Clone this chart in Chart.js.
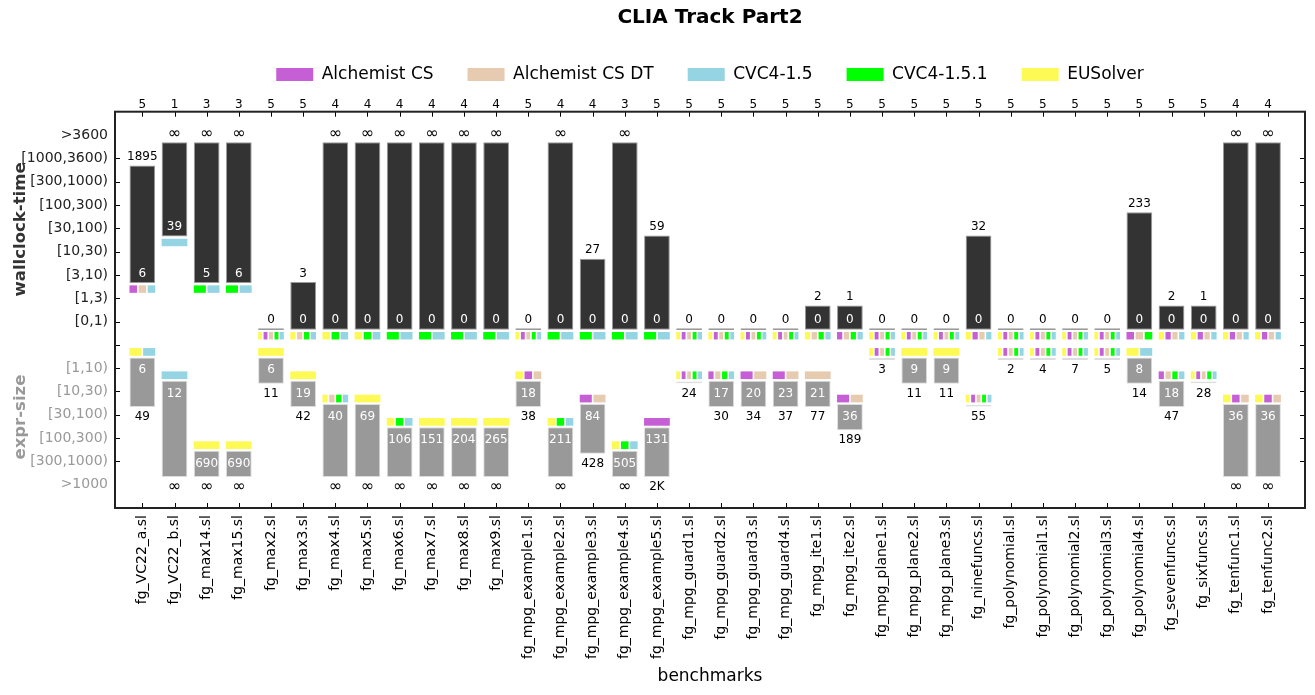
<!DOCTYPE html>
<html>
<head>
<meta charset="utf-8">
<script src="https://cdn.jsdelivr.net/npm/chart.js@4.4.1/dist/chart.umd.min.js"></script>
<style>
html, body { margin: 0; padding: 0; background: #fff; }
</style>
</head>
<body>
<canvas id="c" width="1315" height="695"></canvas>
<script>
var benchmarks = ['fg_VC22_a.sl', 'fg_VC22_b.sl', 'fg_max14.sl', 'fg_max15.sl', 'fg_max2.sl', 'fg_max3.sl',
	'fg_max4.sl', 'fg_max5.sl', 'fg_max6.sl', 'fg_max7.sl', 'fg_max8.sl', 'fg_max9.sl',
	'fg_mpg_example1.sl', 'fg_mpg_example2.sl', 'fg_mpg_example3.sl', 'fg_mpg_example4.sl', 'fg_mpg_example5.sl',
	'fg_mpg_guard1.sl', 'fg_mpg_guard2.sl', 'fg_mpg_guard3.sl', 'fg_mpg_guard4.sl',
	'fg_mpg_ite1.sl', 'fg_mpg_ite2.sl', 'fg_mpg_plane1.sl', 'fg_mpg_plane2.sl', 'fg_mpg_plane3.sl',
	'fg_ninefuncs.sl', 'fg_polynomial.sl', 'fg_polynomial1.sl', 'fg_polynomial2.sl', 'fg_polynomial3.sl',
	'fg_polynomial4.sl', 'fg_sevenfuncs.sl', 'fg_sixfuncs.sl', 'fg_tenfunc1.sl', 'fg_tenfunc2.sl'];

// number of solvers per benchmark (top axis)
var counts = [5, 1, 3, 3, 5, 5, 4, 4, 4, 4, 4, 4, 5, 4, 4, 3, 5, 5, 5, 5, 5, 5, 5, 5, 5, 5, 5, 5, 5, 5, 5, 5, 5, 5, 4, 4];

var INF = Infinity;
// wallclock-time: best and worst
var timeMin = [6, 39, 5, 6, 0, 0, 0, 0, 0, 0, 0, 0, 0, 0, 0, 0, 0, 0, 0, 0, 0, 0, 0, 0, 0, 0, 0, 0, 0, 0, 0, 0, 0, 0, 0, 0];
var timeMax = [1895, INF, INF, INF, 0, 3, INF, INF, INF, INF, INF, INF, 0, INF, 27, INF, 59, 0, 0, 0, 0, 2, 1, 0, 0, 0, 32, 0, 0, 0, 0, 233, 2, 1, INF, INF];
// solvers reaching the best time (Y=EUSolver P=Alchemist CS T=Alchemist CS DT G=CVC4-1.5.1 B=CVC4-1.5)
var timeBest = ['PTB', 'B', 'GB', 'GB', 'YPTGB', 'YTGB', 'YGB', 'YGB', 'GB', 'GB', 'GB', 'GB',
	'YPTGB', 'GB', 'GB', 'GB', 'GB', 'YPTGB', 'YPTGB', 'YPTGB', 'YPTGB', 'YTGB', 'PTGB',
	'YPTGB', 'YPTGB', 'YPTGB', 'YPTB', 'YPTGB', 'YPTGB', 'YPTGB', 'YPTGB', 'PTG', 'YPTB', 'YPTB', 'YPTB', 'YPTB'];

// expr-size: best and worst
var sizeMin = [6, 12, 690, 690, 6, 19, 40, 69, 106, 151, 204, 265, 18, 211, 84, 505, 131, 24, 17, 20, 23, 21, 36, 3, 9, 9, 55, 2, 4, 7, 5, 8, 18, 28, 36, 36];
var sizeMax = [49, INF, INF, INF, 11, 42, INF, INF, INF, INF, INF, INF, 38, INF, 428, INF, 2000, 24, 30, 34, 37, 77, 189, 3, 11, 11, 55, 2, 4, 7, 5, 14, 47, 28, INF, INF];
var sizeBest = ['YB', 'B', 'Y', 'Y', 'Y', 'Y', 'YTGB', 'Y', 'YGB', 'Y', 'Y', 'Y',
	'YPT', 'YGB', 'PT', 'YGB', 'P', 'YPTGB', 'PTGB', 'PT', 'PT', 'T', 'PT',
	'YPTGB', 'Y', 'Y', 'YPTGB', 'YPTGB', 'YPTGB', 'YPTGB', 'YPTGB', 'YB', 'PTGB', 'YPTGB', 'YPT', 'YPT'];

var solvers = ['Alchemist CS', 'Alchemist CS DT', 'CVC4-1.5', 'CVC4-1.5.1', 'EUSolver'];
var solverCodes = ['P', 'T', 'B', 'G', 'Y'];
var solverColors = ['#c65fd5', '#e7cbb0', '#94d4e3', '#00ff00', '#fdf955'];

var timeEdges = [1, 3, 10, 30, 100, 300, 1000, 3600];
var timeLabels = ['[0,1)', '[1,3)', '[3,10)', '[10,30)', '[30,100)', '[100,300)', '[300,1000)', '[1000,3600)', '>3600'];
var sizeEdges = [10, 30, 100, 300, 1000];
var sizeLabels = ['[1,10)', '[10,30)', '[30,100)', '[100,300)', '[300,1000)', '>1000'];

function timeRow(t) {
	return 1 + timeEdges.filter(function(e) { return e <= t; }).length;
}
function sizeRow(s) {
	return -1 - sizeEdges.filter(function(e) { return e <= s; }).length;
}
function fmtTime(t) {
	return t === INF ? '\u221e' : String(t);
}
function fmtSize(s) {
	if (s === INF) return '\u221e';
	return s >= 1000 ? (s / 1000) + 'K' : String(s);
}
function colorOf(code) {
	return solverColors[solverCodes.indexOf(code)];
}

function buildBars() {
	var timeData = [];
	var sizeData = [];
	for (var i = 0; i < benchmarks.length; i++) {
		var tLo = timeRow(timeMin[i]);
		var tHi = timeRow(timeMax[i]);
		if (timeMin[i] === timeMax[i]) {
			timeData.push({ x: i, y: [tLo - 0.36, tLo - 0.29] });
		} else {
			timeData.push({ x: i, y: [tLo - 0.35, tHi - 0.31] });
		}
		var sTop = sizeRow(sizeMin[i]);
		var sBot = sizeRow(sizeMax[i]);
		if (sizeMin[i] === sizeMax[i]) {
			sizeData.push({ x: i, y: [sTop + 0.35, sTop + 0.43] });
		} else {
			sizeData.push({ x: i, y: [sBot + 0.33, sTop + 0.46] });
		}
	}
	return { time: timeData, size: sizeData };
}
var bars = buildBars();

Chart.defaults.font.family = '"DejaVu Sans", sans-serif';
Chart.defaults.color = '#000';

// squares, value labels, frame, inward ticks and the two y titles
var overlay = {
	id: 'overlay',
	afterDatasetsDraw: function(chart) {
		var ctx = chart.ctx;
		var ys = chart.scales.y;
		var els = chart.getDatasetMeta(0).data;
		var gap = 1.6;

		function squares(el, codes, vTop, vBot) {
			var w = el.width;
			var n = codes.length;
			var sw = (w - gap * (n - 1)) / n;
			var x0 = el.x - w / 2;
			var yT = ys.getPixelForValue(vTop);
			var yB = ys.getPixelForValue(vBot);
			for (var k = 0; k < n; k++) {
				ctx.fillStyle = colorOf(codes[k]);
				ctx.fillRect(x0 + k * (sw + gap), yT, sw, yB - yT);
			}
		}

		function label(txt, x, y) {
			ctx.font = txt === '\u221e' ? '16px "DejaVu Sans"' : '12px "DejaVu Sans"';
			ctx.fillText(txt, x, y);
		}

		ctx.save();
		ctx.textAlign = 'center';
		ctx.textBaseline = 'middle';
		for (var i = 0; i < els.length; i++) {
			var el = els[i];
			var tr = timeRow(timeMin[i]);
			var sr = sizeRow(sizeMin[i]);
			squares(el, timeBest[i], tr - 0.45, tr - 0.77);
			squares(el, sizeBest[i], sr + 0.86, sr + 0.53);

			ctx.fillStyle = '#000';
			label(fmtTime(timeMax[i]), el.x, ys.getPixelForValue(timeRow(timeMax[i])) - 1.5);
			label(fmtSize(sizeMax[i]), el.x, ys.getPixelForValue(sizeRow(sizeMax[i])) + 2);
			ctx.fillStyle = '#fff';
			if (timeMin[i] !== timeMax[i]) {
				label(fmtTime(timeMin[i]), el.x, ys.getPixelForValue(tr) - 1.5);
			}
			if (sizeMin[i] !== sizeMax[i]) {
				label(fmtSize(sizeMin[i]), el.x, ys.getPixelForValue(sr) + 2);
			}
		}
		ctx.restore();
	},
	afterDraw: function(chart) {
		var ctx = chart.ctx;
		var a = chart.chartArea;
		var xs = chart.scales.x;
		var ys = chart.scales.y;
		ctx.save();
		ctx.strokeStyle = '#000';
		ctx.lineWidth = 1;
		ctx.beginPath();
		for (var i = 0; i < benchmarks.length; i++) {
			var px = Math.round(xs.getPixelForValue(i)) + 0.5;
			ctx.moveTo(px, a.top); ctx.lineTo(px, a.top + 5);
			ctx.moveTo(px, a.bottom); ctx.lineTo(px, a.bottom - 5);
		}
		for (var v = -5; v <= 8; v++) {
			var py = Math.round(ys.getPixelForValue(v)) + 0.5;
			ctx.moveTo(a.left, py); ctx.lineTo(a.left + 5, py);
			ctx.moveTo(a.right, py); ctx.lineTo(a.right - 5, py);
		}
		ctx.stroke();
		ctx.lineWidth = 2;
		ctx.strokeStyle = '#222';
		ctx.strokeRect(a.left, a.top, a.right - a.left, a.bottom - a.top);

		ctx.font = 'bold 16.5px "DejaVu Sans"';
		ctx.textAlign = 'center';
		ctx.textBaseline = 'middle';
		ctx.translate(21, ys.getPixelForValue(4.95));
		ctx.rotate(-Math.PI / 2);
		ctx.fillStyle = '#333';
		ctx.fillText('wallclock-time', 0, 0);
		ctx.restore();

		ctx.save();
		ctx.font = 'bold 16.5px "DejaVu Sans"';
		ctx.textAlign = 'center';
		ctx.textBaseline = 'middle';
		ctx.translate(21, ys.getPixelForValue(-3.1));
		ctx.rotate(-Math.PI / 2);
		ctx.fillStyle = '#999';
		ctx.fillText('expr-size', 0, 0);
		ctx.restore();
	}
};

function indexTicks(scale) {
	scale.ticks = benchmarks.map(function(b, i) { return { value: i }; });
}

new Chart(document.getElementById('c').getContext('2d'), {
	type: 'bar',
	data: {
		datasets: [
			{
				label: 'wallclock-time',
				data: bars.time,
				backgroundColor: '#333333',
				borderColor: '#9a9a9a',
				borderWidth: 1,
				borderSkipped: false,
				grouped: false,
				categoryPercentage: 0.8,
				barPercentage: 1
			},
			{
				label: 'expr-size',
				data: bars.size,
				backgroundColor: '#999999',
				borderColor: '#dddddd',
				borderWidth: 1,
				borderSkipped: false,
				grouped: false,
				categoryPercentage: 0.8,
				barPercentage: 1
			}
		]
	},
	options: {
		responsive: false,
		animation: false,
		layout: { padding: { left: 0, right: 10, top: 0, bottom: 0 } },
		scales: {
			x: {
				type: 'linear',
				position: 'bottom',
				min: -0.85,
				max: 36.15,
				offset: false,
				afterBuildTicks: indexTicks,
				grid: { display: false, drawTicks: false },
				border: { display: false },
				ticks: {
					autoSkip: false,
					minRotation: 90,
					maxRotation: 90,
					padding: 7,
					font: { size: 14 },
					color: '#000',
					callback: function(v) { return benchmarks[v]; }
				},
				title: {
					display: true,
					text: 'benchmarks',
					font: { size: 17 },
					color: '#000',
					padding: { top: 0, bottom: 8 }
				},
				afterFit: function(s) { s.height = 187; }
			},
			x2: {
				type: 'linear',
				position: 'top',
				min: -0.85,
				max: 36.15,
				offset: false,
				afterBuildTicks: indexTicks,
				grid: { display: false, drawTicks: false },
				border: { display: false },
				ticks: {
					autoSkip: false,
					maxRotation: 0,
					padding: 0,
					font: { size: 12 },
					color: '#000',
					callback: function(v) { return counts[v]; }
				},
				afterFit: function(s) { s.height = 18.7; }
			},
			y: {
				type: 'linear',
				min: -7,
				max: 10,
				grid: { display: false, drawTicks: false },
				border: { display: false },
				ticks: {
					stepSize: 1,
					autoSkip: false,
					padding: 7,
					font: { size: 14 },
					color: function(c) { return c.tick.value > 0 ? '#222' : '#999'; },
					callback: function(v) {
						if (v >= 1) return timeLabels[v - 1];
						if (v <= -1) return sizeLabels[-v - 1];
						return '';
					}
				},
				afterFit: function(s) { s.width = 115; }
			}
		},
		plugins: {
			title: {
				display: true,
				fullSize: false,
				text: 'CLIA Track Part2',
				font: { size: 20, weight: 'bold' },
				color: '#000',
				padding: { top: 6, bottom: 2 }
			},
			legend: {
				display: true,
				fullSize: false,
				position: 'top',
				onClick: function() {},
				labels: {
					boxWidth: 37,
					boxHeight: 13,
					padding: 34,
					font: { size: 17 },
					color: '#000',
					generateLabels: function() {
						return solvers.map(function(s, k) {
							return { text: s, fillStyle: solverColors[k], strokeStyle: solverColors[k], lineWidth: 0, hidden: false, index: k };
						});
					}
				}
			},
			tooltip: { enabled: false }
		}
	},
	plugins: [overlay]
});
</script>
</body>
</html>
